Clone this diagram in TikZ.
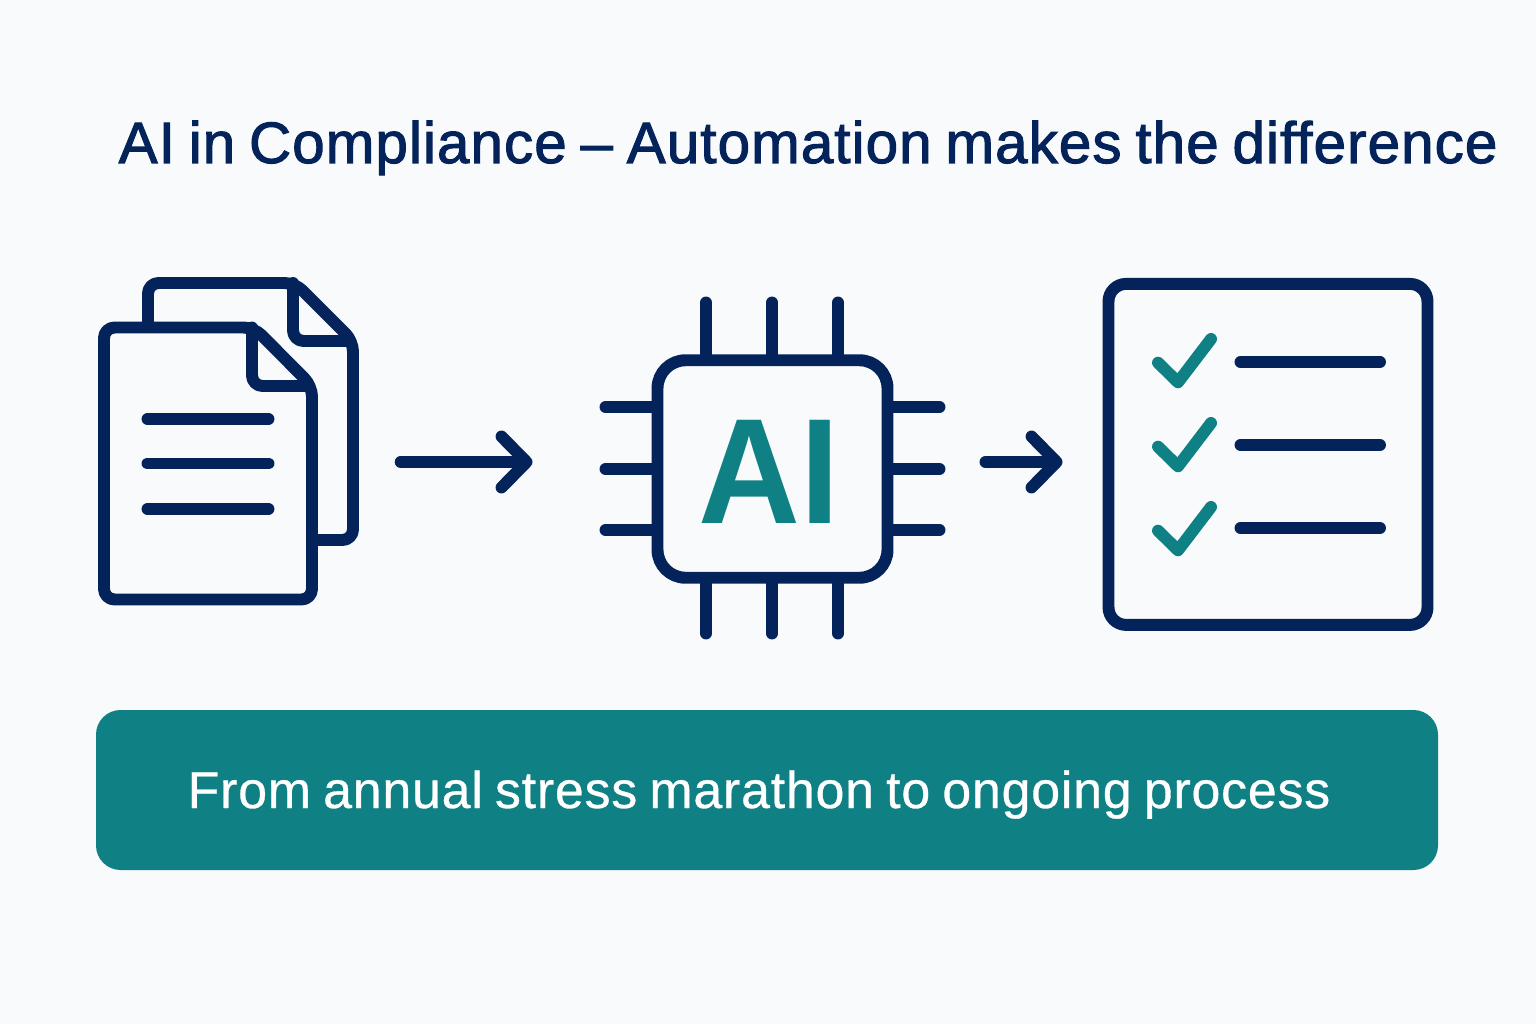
\documentclass[tikz,border=0pt]{standalone}
\usepackage{fontspec}
\usepackage{xcolor}
\usetikzlibrary{arrows.meta}
\setmainfont{Liberation Sans}[FakeBold=0.6, WordSpace=0.8, LetterSpace=1.55]
\newfontfamily\titlefont{Liberation Sans}[FakeBold=1.8, WordSpace=0.8, LetterSpace=1.85]
\newfontfamily\chipfont{Liberation Sans}[FakeStretch=0.94]
\definecolor{navy}{HTML}{03235A}
\definecolor{teal}{HTML}{0F8084}
\definecolor{paper}{HTML}{F8FAFC}
\tikzset{
  iconline/.style={navy, line width=3.4pt, line cap=round, line join=round},
  flowarrow/.style={iconline, -{Straight Barb[length=2.5mm, width=5.1mm, round]}},
  tickmark/.style={teal, line width=3.4pt, line cap=round, line join=round}
}

\begin{document}
\begin{tikzpicture}[font=\sffamily]
  \fill[paper] (0,0) rectangle (15.36,10.24);
  \useasboundingbox (0,0) rectangle (15.36,10.24);

  % heading
  \node[navy, anchor=base west, inner sep=0pt, font=\titlefont\fontsize{16.6}{20}\selectfont] (heading) at (1.18,8.61)
    {AI in Compliance – Automation makes the difference};

  % stacked documents
  \draw[iconline, rounded corners=3pt, fill=paper] (1.48,6.9) -- (1.48,7.41) -- (2.95,7.41) -- (3.53,6.83) -- (3.53,4.84) -- (3.1,4.84);
  \draw[iconline, rounded corners=3pt] (2.93,7.41) -- (2.93,6.83) -- (3.5,6.83);
  \draw[iconline, rounded corners=3pt, fill=paper] (1.04,5.5) -- (1.04,6.965) -- (2.54,6.965) -- (3.12,6.38) -- (3.12,4.245) -- (1.04,4.245) -- cycle;
  \draw[iconline, rounded corners=3pt] (2.52,6.965) -- (2.52,6.38) -- (3.09,6.38);
  \foreach \y in {6.05,5.605,5.15}
    \draw[iconline] (1.475,\y) -- (2.685,\y);
  \node[inner sep=0pt, minimum width=2.59cm, minimum height=3.2cm] (docs) at (2.285,5.6) {};

  % chip
  \foreach \x in {7.06,7.72,8.38}
    \draw[iconline] (\x,3.905) -- (\x,7.215);
  \foreach \y in {6.17,5.55,4.94}
    \draw[iconline] (6.055,\y) -- (9.395,\y);
  \node[draw=navy, fill=paper, line width=3.4pt, rounded corners=8pt, outer sep=0pt, inner sep=0pt,
    minimum width=2.3cm, minimum height=2.175cm] (chip) at (7.725,5.55) {};
  \node[teal, anchor=base, inner sep=0pt, font=\chipfont\bfseries\fontsize{42.7}{50}\selectfont] (ailabel) at (7.69,5.01) {AI};

  % checklist
  \node[draw=navy, line width=3.4pt, rounded corners=5pt, outer sep=0pt, inner sep=0pt,
    minimum width=3.19cm, minimum height=3.41cm] (checklist) at (12.68,5.696) {};
  \foreach \y in {6.62,5.79,4.96}
    \draw[iconline] (12.405,\y) -- (13.8,\y);
  \foreach \y in {0,-0.84,-1.68}
    \draw[tickmark] (11.58,6.613+\y) -- (11.78,6.417+\y) -- (12.11,6.85+\y);

  % arrows between the icons
  \coordinate (flowline) at (0,5.62);
  \draw[flowarrow, shorten <=0.42cm, shorten >=1.25cm] (docs.east |- flowline) -- (chip.west |- flowline);
  \draw[flowarrow, shorten <=0.98cm, shorten >=0.46cm] (chip.east |- flowline) -- (checklist.west |- flowline);

  % banner
  \node[fill=teal, rounded corners=7pt, inner sep=0pt, minimum width=13.42cm, minimum height=1.6cm] (banner) at (7.67,2.34) {};
  \node[white, anchor=base, inner sep=0pt, font=\rmfamily\fontsize{14.75}{18}\selectfont] (bannertext) at (7.59,2.16)
    {From annual stress marathon to ongoing process};
\end{tikzpicture}
\end{document}
